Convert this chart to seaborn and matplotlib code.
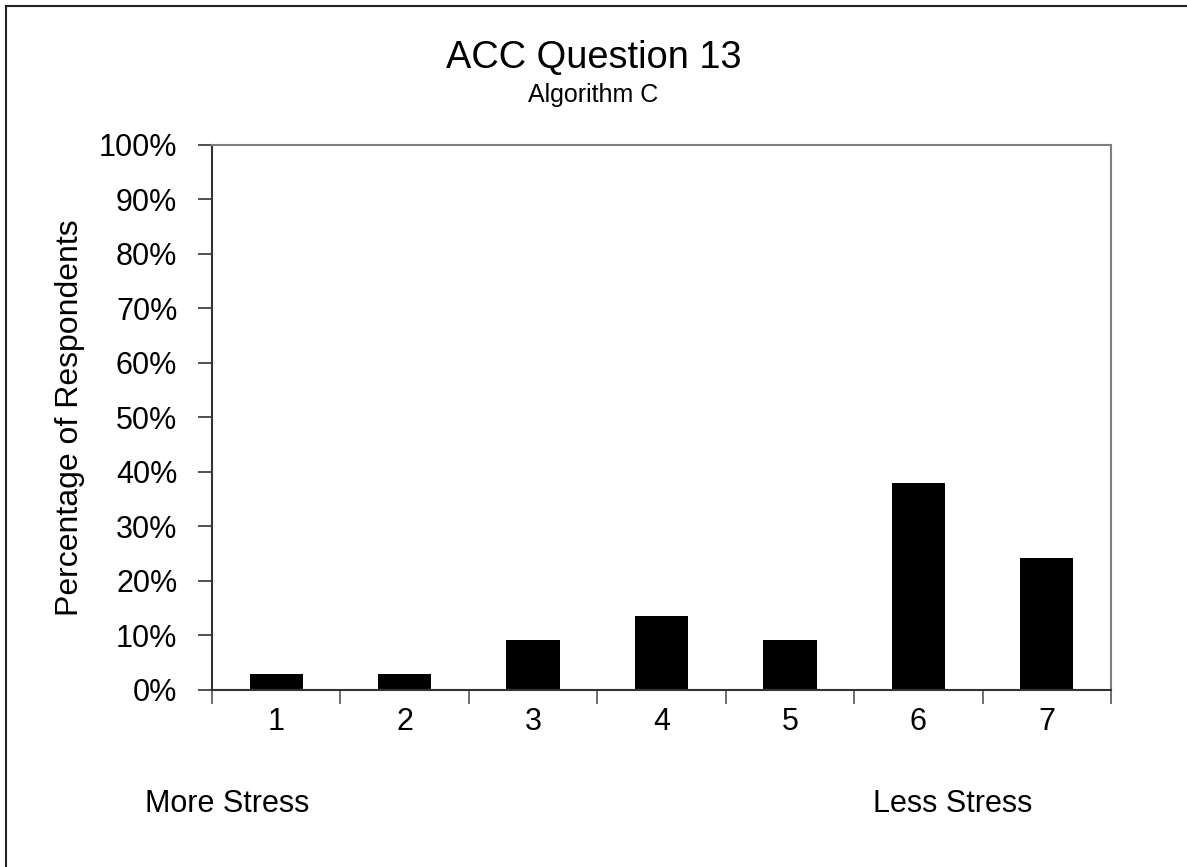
import matplotlib
matplotlib.use("Agg")
import matplotlib.pyplot as plt
import seaborn as sns
import pandas as pd
from matplotlib.patches import Rectangle
from matplotlib.ticker import FixedLocator, PercentFormatter

categories = ["1", "2", "3", "4", "5", "6", "7"]
percentages = [3.0, 3.0, 9.1, 13.6, 9.1, 37.9, 24.2]
yticks = [0, 10, 20, 30, 40, 50, 60, 70, 80, 90, 100]

sns.set_theme(style="white")
plt.rcParams["font.family"] = ["Liberation Sans", "DejaVu Sans"]
plt.rcParams["text.color"] = "black"
plt.rcParams["xtick.color"] = "black"
plt.rcParams["ytick.color"] = "black"
plt.rcParams["axes.labelcolor"] = "black"

df = pd.DataFrame({"rating": categories, "pct": percentages})

fig = plt.figure(figsize=(11.87, 8.67), dpi=100)
ax = fig.add_axes([0.1786, 0.2042, 0.7574, 0.6286])

sns.barplot(data=df, x="rating", y="pct", order=categories, color="black",
            width=0.415, saturation=1, ax=ax)
for p in ax.patches:
    p.set_edgecolor("none")

ax.set_xlim(-0.5, len(categories) - 0.5)
ax.set_ylim(0, 100)
ax.set_yticks(yticks)
ax.yaxis.set_major_formatter(PercentFormatter(decimals=0))
ax.xaxis.set_minor_locator(FixedLocator([i - 0.5 for i in range(len(categories) + 1)]))

ax.tick_params(axis="y", which="major", direction="out", length=10, width=1.2,
               color="#333333", labelsize=22, pad=15, left=True)
ax.tick_params(axis="x", which="major", length=0, labelsize=22, pad=12, bottom=True)
ax.tick_params(axis="x", which="minor", direction="out", length=10, width=1.2,
               color="#555555", bottom=True)

for side in ["left", "bottom"]:
    ax.spines[side].set_color("#333333")
    ax.spines[side].set_linewidth(1.5)
for side in ["top", "right"]:
    ax.spines[side].set_color("#808080")
    ax.spines[side].set_linewidth(1.5)

ax.set_xlabel("")
ax.set_ylabel("Percentage of Respondents", fontsize=23, labelpad=10)

fig.text(0.5, 0.9216, "ACC Question 13", ha="center", va="baseline", fontsize=27.4)
fig.text(0.5, 0.882, "Algorithm C", ha="center", va="baseline", fontsize=18)
fig.text(0.122, 0.0635, "More Stress", ha="left", va="baseline", fontsize=22)
fig.text(0.8695, 0.0635, "Less Stress", ha="right", va="baseline", fontsize=22)

fig.patches.append(Rectangle((0.005, -0.05), 1.2, 1.043, transform=fig.transFigure,
                             fill=False, edgecolor="#222222", linewidth=1.5))

fig.savefig("out.png", dpi=100, facecolor="white")
